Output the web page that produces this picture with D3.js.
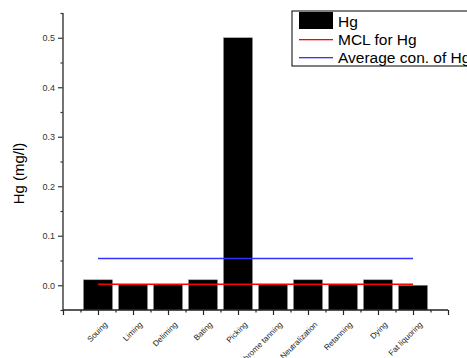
<!DOCTYPE html>
<html>
<head>
<meta charset="utf-8">
<script src="https://cdn.jsdelivr.net/npm/d3@7"></script>
<style>
  body { margin: 0; background: #fff; }
  svg { display: block; font-family: "Liberation Sans", Arial, sans-serif; }
</style>
</head>
<body>
<div id="chart"></div>
<script>
// data
const categories = ["Souing", "Liming", "Deliming", "Bating", "Picking",
  "Chrome tanning", "Neutralization", "Retanning", "Dying", "Fat liquoring"];
const hgValues = [0.011, 0.002, 0.002, 0.011, 0.5, 0.002, 0.011, 0.002, 0.011, 0.0];
const mclValue = 0.002;
const avgValue = 0.054;
const yTicks = [0.0, 0.1, 0.2, 0.3, 0.4, 0.5];
const legendLabels = ["Hg", "MCL for Hg", "Average con. of Hg"];
const legendColors = ["#000", "#ff0000", "#3333ff"];

const width = 467;
const height = 358;

const svg = d3.select("#chart")
  .append("svg")
  .attr("width", width)
  .attr("height", height);

// plot area
const x = d3.scaleLinear().domain([0, categories.length + 1]).range([63, 448]);
const y = d3.scaleLinear().domain([-0.05, 0.55]).range([310, 13]);
const step = x(1) - x(0);
const barW = step * 0.83;

// bars
svg.append("g")
  .selectAll("rect")
  .data(hgValues)
  .enter()
  .append("rect")
  .attr("x", (d, i) => x(i + 1) - barW / 2)
  .attr("y", d => y(d))
  .attr("width", barW)
  .attr("height", d => y(-0.05) - y(d))
  .attr("fill", "#000")
  .attr("stroke", "#999")
  .attr("stroke-width", 0.5);

// reference lines
const refLine = (v, color) => svg.append("line")
  .attr("x1", x(1)).attr("x2", x(categories.length))
  .attr("y1", y(v)).attr("y2", y(v))
  .attr("stroke", color)
  .attr("stroke-width", 1.5);
refLine(avgValue, "#3333ff");
refLine(mclValue, "#ff0000");

// y axis
const yAxis = svg.append("g")
  .attr("transform", `translate(${x(0)},0)`)
  .call(d3.axisLeft(y).tickValues(yTicks).tickSize(5).tickPadding(3)
    .tickFormat(d3.format(".1f")));
yAxis.select(".domain").remove();
yAxis.selectAll("text").attr("font-size", 9).attr("fill", "#333")
  .attr("font-family", "Liberation Sans, Arial, sans-serif");
yAxis.selectAll("line").attr("stroke", "#333").attr("stroke-width", 1.2);

svg.append("g")
  .attr("transform", `translate(${x(0)},0)`)
  .call(d3.axisLeft(y).tickValues(d3.range(-0.05, 0.56, 0.1)).tickSize(2.5).tickFormat(""))
  .call(g => g.select(".domain").remove())
  .selectAll("line").attr("stroke", "#333").attr("stroke-width", 1.2);

svg.append("line")
  .attr("x1", x(0)).attr("x2", x(0))
  .attr("y1", y(0.55)).attr("y2", y(-0.05))
  .attr("stroke", "#444").attr("stroke-width", 1.5);

// x axis
const xAxis = svg.append("g")
  .attr("transform", `translate(0,${y(-0.05)})`)
  .call(d3.axisBottom(x).tickValues(d3.range(0, categories.length + 2)).tickSize(5).tickFormat(""));
xAxis.select(".domain").remove();
xAxis.selectAll("line").attr("stroke", "#222").attr("stroke-width", 1.2);

svg.append("g")
  .attr("transform", `translate(0,${y(-0.05)})`)
  .call(d3.axisBottom(x).tickValues(d3.range(0.5, categories.length + 1, 1)).tickSize(2.5).tickFormat(""))
  .call(g => g.select(".domain").remove())
  .selectAll("line").attr("stroke", "#222").attr("stroke-width", 1.2);

svg.append("line")
  .attr("x1", x(0)).attr("x2", x(categories.length + 1))
  .attr("y1", y(-0.05)).attr("y2", y(-0.05))
  .attr("stroke", "#222").attr("stroke-width", 1.5);

// rotated category labels
svg.append("g")
  .selectAll("text")
  .data(categories)
  .enter()
  .append("text")
  .attr("transform", (d, i) => `translate(${x(i + 1) + 10},${y(-0.05) + 15}) rotate(-45)`)
  .attr("text-anchor", "end")
  .attr("font-size", 8)
  .attr("fill", "#222")
  .text(d => d);

// y axis title
svg.append("text")
  .attr("transform", `translate(24,${(y(0.55) + y(-0.05)) / 2 + 12}) rotate(-90)`)
  .attr("text-anchor", "middle")
  .attr("font-size", 15)
  .attr("fill", "#000")
  .text("Hg (mg/l)");

// legend
const legend = svg.append("g").attr("transform", "translate(292,11)");
legend.append("rect")
  .attr("x", 0).attr("y", 0)
  .attr("width", 200).attr("height", 55)
  .attr("fill", "#fff")
  .attr("stroke", "#000")
  .attr("stroke-width", 1);
legend.append("rect")
  .attr("x", 7).attr("y", 1).attr("width", 34).attr("height", 17)
  .attr("fill", legendColors[0]);
legend.selectAll("rect.sw")
  .data(legendColors.slice(1))
  .enter()
  .append("rect")
  .attr("class", "sw")
  .attr("x", 7).attr("width", 34)
  .attr("y", (d, i) => 28 + i * 18).attr("height", 1.3)
  .attr("fill", d => d);
legend.selectAll("text.lbl")
  .data(legendLabels)
  .enter()
  .append("text")
  .attr("class", "lbl")
  .attr("x", 46)
  .attr("y", (d, i) => 16 + i * 18)
  .attr("font-size", 15.5)
  .attr("fill", "#000")
  .text(d => d);
</script>
</body>
</html>
